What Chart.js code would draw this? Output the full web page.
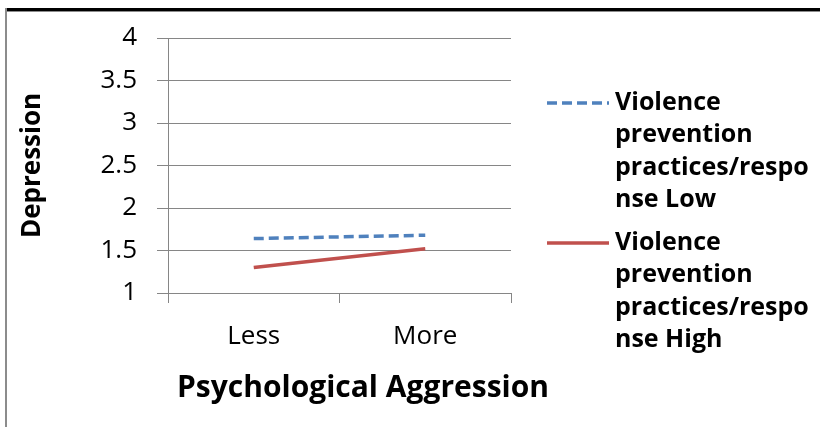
<!DOCTYPE html>
<html>
<head>
    <title>Depression by Psychological Aggression</title>
    <script src="https://cdn.jsdelivr.net/npm/chart.js"></script>
    <style>
        html, body { margin: 0; padding: 0; background: #fff; }
        #wrap { width: 820px; height: 427px; }
    </style>
</head>
<body>
    <div id="wrap"><canvas id="chart" width="820" height="427"></canvas></div>
    <script>
    // data
    const categories = ['Less', 'More'];
    const lowValues = [1.64, 1.68];
    const highValues = [1.30, 1.52];
    const yTicks = [1, 1.5, 2, 2.5, 3, 3.5, 4];
    const lowLabel = ['Violence', 'prevention', 'practices/respo', 'nse Low'];
    const highLabel = ['Violence', 'prevention', 'practices/respo', 'nse High'];
    const xTitle = 'Psychological Aggression';

    const FONT = '"Open Sans", sans-serif';
    const GRID = '#868686';

    // frame, x title (sits right of the plot centre) and legend
    const extras = {
        id: 'extras',
        beforeDraw(chart) {
            const c = chart.ctx;
            c.save();
            c.fillStyle = '#fff';
            c.fillRect(0, 0, chart.width, chart.height);
            c.fillStyle = '#000';
            c.fillRect(5, 8, chart.width - 5, 3);
            c.fillStyle = '#8c8c8c';
            c.fillRect(5, 11, chart.width - 5, 1);
            c.fillRect(5, 8, 2, chart.height - 8);
            c.restore();
        },
        afterDraw(chart) {
            const c = chart.ctx;
            c.save();
            c.fillStyle = '#000';
            c.font = 'bold 30px ' + FONT;
            c.textAlign = 'center';
            c.textBaseline = 'middle';
            c.fillText(xTitle, 363, 388);

            const items = [
                { ds: chart.data.datasets[0], lines: lowLabel, y: 103 },
                { ds: chart.data.datasets[1], lines: highLabel, y: 243 }
            ];
            c.textAlign = 'left';
            items.forEach(it => {
                c.strokeStyle = it.ds.borderColor;
                c.lineWidth = 3.5;
                c.setLineDash(it.ds.borderDash || []);
                c.beginPath();
                c.moveTo(547, it.y);
                c.lineTo(609, it.y);
                c.stroke();
                c.setLineDash([]);
                c.font = 'bold 25px ' + FONT;
                it.lines.forEach((t, i) => c.fillText(t, 615, it.y + i * 32.3));
            });
            c.restore();
        }
    };

    new Chart(document.getElementById('chart'), {
        type: 'line',
        data: {
            labels: categories,
            datasets: [{
                label: lowLabel.join(''),
                data: lowValues,
                borderColor: '#4f81bd',
                borderWidth: 3.5,
                borderDash: [10, 5],
                pointRadius: 0,
                fill: false
            }, {
                label: highLabel.join(''),
                data: highValues,
                borderColor: '#c0504d',
                borderWidth: 3.5,
                pointRadius: 0,
                fill: false
            }]
        },
        options: {
            responsive: false,
            animation: false,
            layout: { padding: { left: 0, right: 309, top: 38, bottom: 0 } },
            plugins: { legend: { display: false }, tooltip: { enabled: false } },
            scales: {
                x: {
                    offset: true,
                    afterFit: s => { s.height = 134; },
                    grid: { offset: true, drawOnChartArea: false, color: GRID, tickLength: 10 },
                    border: { color: GRID },
                    ticks: { color: '#000', font: { family: FONT, size: 26 }, padding: 18 }
                },
                y: {
                    min: 1,
                    max: 4,
                    afterFit: s => { s.width = 168; },
                    afterBuildTicks: s => { s.ticks = yTicks.map(v => ({ value: v })); },
                    grid: { color: GRID, tickLength: 11 },
                    border: { color: GRID },
                    ticks: {
                        color: '#000',
                        font: { family: FONT, size: 26 },
                        padding: 20,
                        callback: v => String(v)
                    },
                    title: {
                        display: true,
                        text: 'Depression',
                        color: '#000',
                        font: { family: FONT, size: 26, weight: 'bold' },
                        padding: { top: 17, bottom: 0 }
                    }
                }
            }
        },
        plugins: [extras]
    });
    </script>
</body>
</html>
